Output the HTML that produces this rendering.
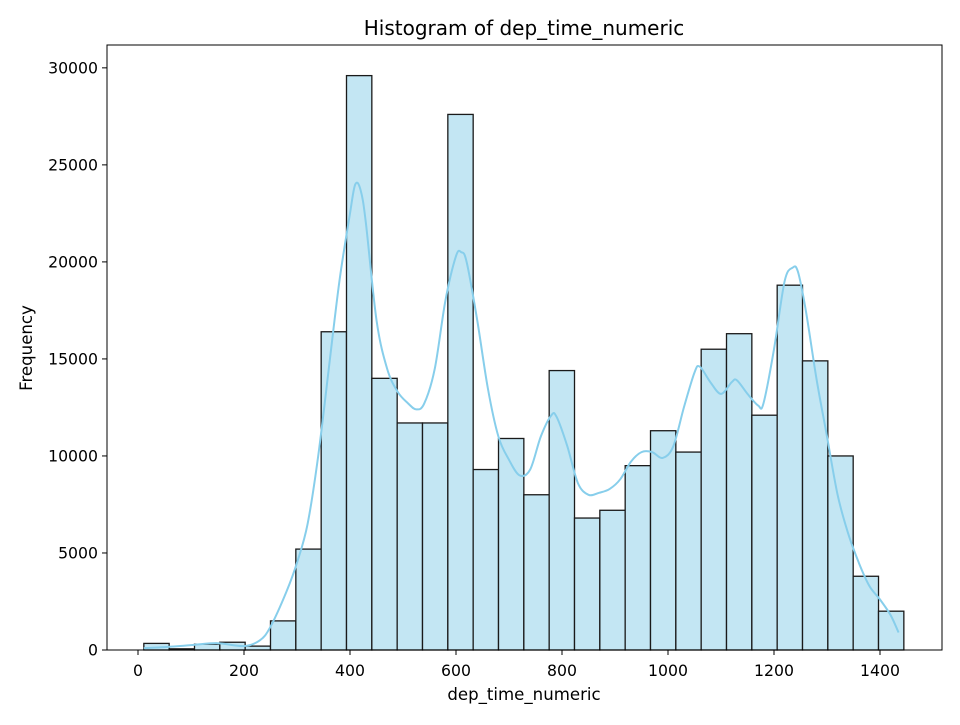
<!DOCTYPE html>
<html><head><meta charset="utf-8"><style>
body{margin:0;background:#fff;}
svg text{font-family:"DejaVu Sans","Liberation Sans",sans-serif;fill:#000;}
</style></head><body>
<svg id="chart" width="960" height="720">
<rect width="960" height="720" fill="#fff"/>
<text x="524" y="35" text-anchor="middle" font-size="20">Histogram of dep_time_numeric</text>
<g id="bars"></g>
<path id="kde" fill="none" stroke="#87ceeb" stroke-width="2"/>
<rect x="107" y="45" width="835" height="605" fill="none" stroke="#000" stroke-width="1"/>
<g id="xticks"></g><g id="yticks"></g>
<text x="524" y="700" text-anchor="middle" font-size="16.6">dep_time_numeric</text>
<text transform="translate(32,348) rotate(-90)" text-anchor="middle" font-size="16.6">Frequency</text>
</svg>
<script>
const binStart = 11;
const binWidth = 47.8;
const counts = [340,60,300,400,200,1500,5200,16400,29600,14000,11700,11700,27600,9300,10900,8000,14400,6800,7200,9500,11300,10200,15500,16300,12100,18800,14900,10000,3800,2000];
const kdeX = [11,50,100,150,200,230,250,280,300,320,340,360,380,400,410,420,430,450,470,490,510,525,540,560,580,600,610,620,640,660,680,700,720,740,760,780,790,810,830,850,870,890,910,930,950,970,990,1010,1030,1050,1060,1080,1100,1120,1130,1150,1170,1180,1200,1220,1235,1245,1260,1280,1300,1320,1340,1360,1380,1400,1420,1435];
const kdeY = [100,150,250,350,200,500,1200,3000,4500,6500,10000,14500,19000,22500,24000,23700,22000,17000,14500,13300,12700,12400,12700,14500,18000,20300,20500,20000,17000,13500,11000,9800,9000,9300,11000,12100,12000,10500,8600,8000,8100,8300,8800,9700,10200,10200,9900,10500,12500,14300,14600,13800,13200,13800,13900,13200,12600,12700,15500,19000,19700,19500,17500,14000,11000,8000,6000,4500,3300,2600,1800,900];
const xTicks = [0,200,400,600,800,1000,1200,1400];
const yTicks = [0,5000,10000,15000,20000,25000,30000];
const ns="http://www.w3.org/2000/svg";
const xs = v => 138 + v*0.53;
const ys = v => 650 - v*0.019405;
const bars=document.getElementById('bars');
counts.forEach((c,i)=>{
  const r=document.createElementNS(ns,'rect');
  const x0=xs(binStart+i*binWidth), x1=xs(binStart+(i+1)*binWidth);
  r.setAttribute('x',x0);r.setAttribute('width',x1-x0);
  r.setAttribute('y',ys(c));r.setAttribute('height',650-ys(c));
  r.setAttribute('fill','#c3e6f3');r.setAttribute('stroke','#1a1a1a');r.setAttribute('stroke-width','1.3');
  
  
  bars.appendChild(r);
});
const P=kdeX.map((x,i)=>[xs(x),ys(kdeY[i])]);
let d='M'+P[0][0].toFixed(1)+','+P[0][1].toFixed(1);
for(let i=0;i<P.length-1;i++){
  const p0=P[Math.max(0,i-1)],p1=P[i],p2=P[i+1],p3=P[Math.min(P.length-1,i+2)];
  const c1=[p1[0]+(p2[0]-p0[0])/6,p1[1]+(p2[1]-p0[1])/6];
  const c2=[p2[0]-(p3[0]-p1[0])/6,p2[1]-(p3[1]-p1[1])/6];
  d+='C'+c1[0].toFixed(1)+','+c1[1].toFixed(1)+' '+c2[0].toFixed(1)+','+c2[1].toFixed(1)+' '+p2[0].toFixed(1)+','+p2[1].toFixed(1);
}
document.getElementById('kde').setAttribute('d',d);
const xt=document.getElementById('xticks');
xTicks.forEach(t=>{
  const l=document.createElementNS(ns,'line');
  l.setAttribute('x1',xs(t));l.setAttribute('x2',xs(t));l.setAttribute('y1',650);l.setAttribute('y2',655);l.setAttribute('stroke','#000');
  
  
  xt.appendChild(l);
  const s=document.createElementNS(ns,'text');
  s.setAttribute('x',xs(t));s.setAttribute('y',676);s.setAttribute('text-anchor','middle');s.setAttribute('font-size','15.7');
  s.textContent=t;
  
  
  xt.appendChild(s);
});
const yt=document.getElementById('yticks');
yTicks.forEach(t=>{
  const l=document.createElementNS(ns,'line');
  l.setAttribute('x1',102);l.setAttribute('x2',107);l.setAttribute('y1',ys(t));l.setAttribute('y2',ys(t));l.setAttribute('stroke','#000');
  
  
  yt.appendChild(l);
  const s=document.createElementNS(ns,'text');
  s.setAttribute('x',98);s.setAttribute('y',ys(t)+5.5);s.setAttribute('text-anchor','end');s.setAttribute('font-size','15.7');
  s.textContent=t;
  
  
  yt.appendChild(s);
});
</script>
</body></html>
